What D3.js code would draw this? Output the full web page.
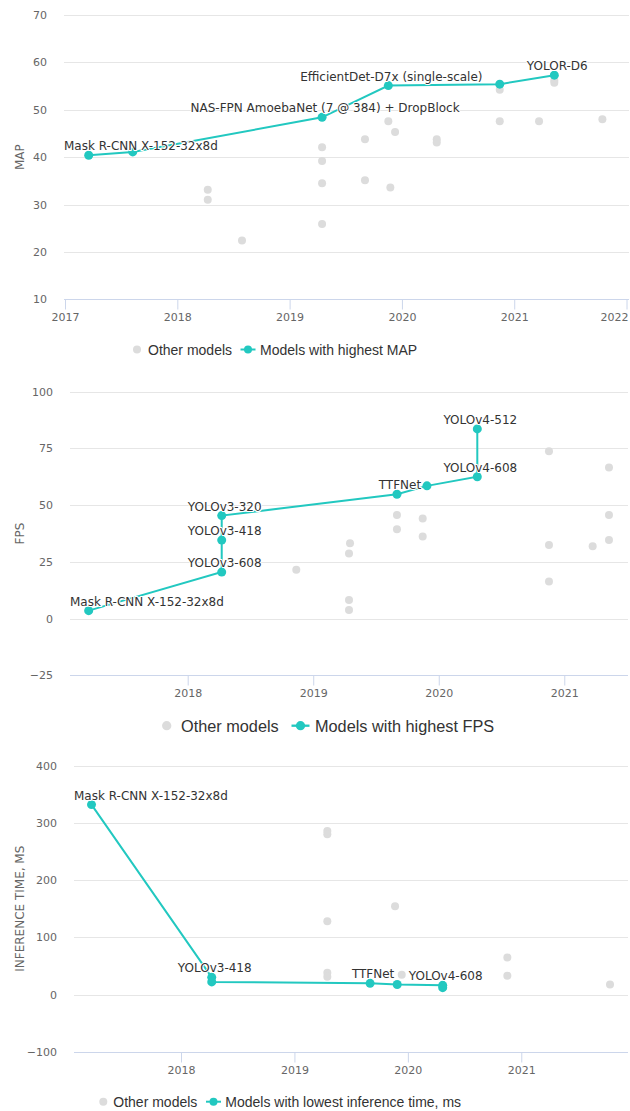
<!DOCTYPE html>
<html>
<head>
<meta charset="utf-8">
<script src="https://cdn.jsdelivr.net/npm/d3@7/dist/d3.min.js"></script>
<style>
  html, body { margin: 0; padding: 0; background: #fff; }
  svg { display: block; }
</style>
</head>
<body>
<svg id="chart" width="630" height="1111"></svg>
<script>
// ---------------- DATA ----------------
// Chart 1: MAP
const mapBestYears  = [2017.211, 2017.603, 2019.289, 2019.879, 2020.871, 2021.357];
const mapBestValues = [40.4, 41.1, 48.4, 55.1, 55.4, 57.3];
const mapBestLabels = ["Mask R-CNN X-152-32x8d", "", "NAS-FPN AmoebaNet (7 @ 384) + DropBlock",
                       "EfficientDet-D7x (single-scale)", "", "YOLOR-D6"];
const mapOtherYears  = [2018.271, 2018.271, 2018.576, 2019.289, 2019.289, 2019.289, 2019.289,
                        2019.879, 2019.939, 2019.671, 2019.671, 2019.897, 2020.31, 2020.31,
                        2020.871, 2020.871, 2021.221, 2021.357, 2021.357, 2021.785];
const mapOtherValues = [33.1, 31.0, 22.4, 42.1, 39.2, 34.5, 25.9,
                        47.6, 45.3, 43.8, 35.1, 33.6, 43.8, 43.1,
                        54.2, 47.6, 47.6, 56.2, 55.7, 48.0];
const mapXTicks = [2017, 2018, 2019, 2020, 2021, 2022];
const mapYTicks = [10, 20, 30, 40, 50, 60, 70];

// Chart 2: FPS
const fpsBestYears  = [2017.211, 2018.271, 2018.271, 2018.271, 2019.667, 2019.906, 2020.307, 2020.307];
const fpsBestValues = [3.5, 20.5, 34.6, 45.4, 54.8, 58.5, 62.5, 83.6];
const fpsBestLabels = ["Mask R-CNN X-152-32x8d", "YOLOv3-608", "YOLOv3-418", "YOLOv3-320",
                       "TTFNet", "", "YOLOv4-608", "YOLOv4-512"];
const fpsOtherYears  = [2018.865, 2019.293, 2019.285, 2019.285, 2019.285, 2019.667, 2019.667,
                        2019.872, 2019.872, 2020.878, 2020.878, 2020.878, 2021.226,
                        2021.356, 2021.356, 2021.356];
const fpsOtherValues = [21.5, 33.2, 28.7, 8.2, 3.8, 45.6, 39.4,
                        44.1, 36.2, 73.8, 32.4, 16.3, 31.9,
                        66.6, 45.6, 34.6];
const fpsXTicks = [2018, 2019, 2020, 2021];
const fpsYTicks = [-25, 0, 25, 50, 75, 100];

// Chart 3: Inference time, ms
const infBestYears  = [2017.211, 2018.271, 2018.271, 2019.667, 2019.906, 2020.307, 2020.307];
const infBestValues = [332, 30, 22, 19.5, 17.5, 16, 12];
const infBestLabels = ["Mask R-CNN X-152-32x8d", "YOLOv3-418", "", "TTFNet", "", "YOLOv4-608", ""];
const infOtherYears  = [2019.29, 2019.29, 2019.29, 2019.29, 2019.29, 2019.887, 2019.946,
                        2020.877, 2020.877, 2021.782];
const infOtherValues = [286, 280, 128, 38, 31, 154.5, 34.4, 64.7, 32.7, 17.5];
const infXTicks = [2018, 2019, 2020, 2021];
const infYTicks = [-100, 0, 100, 200, 300, 400];

// ---------------- STYLE ----------------
const CYAN = "#22c8c0";
const GREY = "#dcdcdc";
const FONT = "'DejaVu Sans', Verdana, sans-serif";
const LEGEND_FONT = "'Liberation Sans', Arial, sans-serif";
const PAGE_W = 630;

const svg = d3.select("#chart");

function drawChart(cfg) {
  const g = svg.append("g");
  const x = d3.scaleLinear().domain(cfg.xDomain).range([cfg.left, cfg.right]);
  const y = d3.scaleLinear().domain(cfg.yDomain).range([cfg.bottom, cfg.top]);

  // grid lines
  g.append("g").selectAll("line").data(cfg.yTicks).join("line")
    .attr("x1", cfg.left).attr("x2", cfg.right)
    .attr("y1", d => Math.round(y(d)) + 0.5).attr("y2", d => Math.round(y(d)) + 0.5)
    .attr("stroke", "#e6e6e6").attr("stroke-width", 1);

  // y axis labels
  const yAxis = d3.axisLeft(y).tickValues(cfg.yTicks).tickSize(0).tickPadding(0)
    .tickFormat(d3.format("d"));
  const ya = g.append("g").attr("transform", `translate(${cfg.left - 17},0)`).call(yAxis);
  ya.select(".domain").remove();
  ya.selectAll("text").attr("font-family", FONT).attr("font-size", 11).attr("fill", "#666");

  // x axis
  const xAxis = d3.axisBottom(x).tickValues(cfg.xTicks).tickSize(10).tickPadding(4)
    .tickFormat(d3.format("d"));
  const xa = g.append("g").attr("transform", `translate(0,${Math.round(cfg.bottom) + 0.5})`).call(xAxis);
  xa.select(".domain").attr("d", `M${cfg.left},0H${cfg.right}`).attr("stroke", "#ccd6eb");
  xa.selectAll(".tick line").attr("stroke", "#ccd6eb");
  xa.selectAll(".tick text").attr("font-family", FONT).attr("font-size", 11).attr("fill", "#666")
    .each(function(d) {
      // keep labels inside the page (like the reference's shifted last label)
      const w = this.getComputedTextLength();
      const cx = x(d);
      const maxRight = PAGE_W - 2;
      if (cx + w / 2 > maxRight) d3.select(this).attr("x", maxRight - w / 2 - cx);
    });

  // y axis title
  g.append("text")
    .attr("transform", `translate(23.5,${(cfg.top + cfg.bottom) / 2}) rotate(-90)`)
    .attr("text-anchor", "middle")
    .attr("font-family", FONT).attr("font-size", 12).attr("fill", "#666")
    .text(cfg.title);

  // other models
  const others = cfg.otherYears.map((yr, i) => ({ yr, v: cfg.otherValues[i] }));
  g.append("g").selectAll("circle").data(others).join("circle")
    .attr("cx", d => x(d.yr)).attr("cy", d => y(d.v)).attr("r", 4)
    .attr("fill", GREY);

  // best line
  const best = cfg.bestYears.map((yr, i) => ({ yr, v: cfg.bestValues[i], label: cfg.bestLabels[i] }));
  const line = d3.line().x(d => x(d.yr)).y(d => y(d.v));
  g.append("path").datum(best).attr("d", line)
    .attr("fill", "none").attr("stroke", CYAN).attr("stroke-width", 2);
  g.append("g").selectAll("circle").data(best).join("circle")
    .attr("cx", d => x(d.yr)).attr("cy", d => y(d.v)).attr("r", 4.5)
    .attr("fill", CYAN);

  // data labels
  const lab = g.append("g");
  best.filter(d => d.label).forEach(d => {
    const t = lab.append("text")
      .attr("x", x(d.yr) + 3).attr("y", y(d.v) - 5)
      .attr("text-anchor", "middle")
      .attr("font-family", FONT).attr("font-size", 12)
      .attr("fill", "#333")
      .attr("stroke", "#fff").attr("stroke-width", 2).attr("stroke-linejoin", "round")
      .attr("paint-order", "stroke")
      .text(d.label);
    const w = t.node().getComputedTextLength();
    let cx = x(d.yr) + 3;
    if (cx - w / 2 < cfg.left) cx = cfg.left + w / 2;
    if (cx + w / 2 > cfg.right) cx = cfg.right - w / 2;
    t.attr("x", cx);
  });

  // legend
  const L = cfg.legend;
  const lg = g.append("g");
  lg.append("circle").attr("cx", L.circleX).attr("cy", L.y).attr("r", 4 * L.scale).attr("fill", GREY);
  lg.append("text").attr("x", L.text1X).attr("y", L.y + 5 * L.scale)
    .attr("font-family", LEGEND_FONT).attr("font-size", L.fontSize).attr("fill", "#333")
    .text("Other models");
  lg.append("line").attr("x1", L.lineX1).attr("x2", L.lineX2).attr("y1", L.y).attr("y2", L.y)
    .attr("stroke", CYAN).attr("stroke-width", 2 * L.scale);
  lg.append("circle").attr("cx", (L.lineX1 + L.lineX2) / 2).attr("cy", L.y).attr("r", 4 * L.scale).attr("fill", CYAN);
  lg.append("text").attr("x", L.text2X).attr("y", L.y + 5 * L.scale)
    .attr("font-family", LEGEND_FONT).attr("font-size", L.fontSize).attr("fill", "#333")
    .text(cfg.legendText);
}

drawChart({
  left: 64, right: 629, top: 15, bottom: 299.3,
  xDomain: [2016.991, 2022.022], yDomain: [10, 70],
  xTicks: mapXTicks, yTicks: mapYTicks, title: "MAP",
  bestYears: mapBestYears, bestValues: mapBestValues, bestLabels: mapBestLabels,
  otherYears: mapOtherYears, otherValues: mapOtherValues,
  legendText: "Models with highest MAP",
  legend: { y: 349.5, circleX: 137, text1X: 148, lineX1: 240.5, lineX2: 255.5, text2X: 260, fontSize: 14, scale: 1 }
});

drawChart({
  left: 70, right: 628, top: 391.7, bottom: 675.3,
  xDomain: [2017.0624, 2021.5075], yDomain: [-25, 100],
  xTicks: fpsXTicks, yTicks: fpsYTicks, title: "FPS",
  bestYears: fpsBestYears, bestValues: fpsBestValues, bestLabels: fpsBestLabels,
  otherYears: fpsOtherYears, otherValues: fpsOtherValues,
  legendText: "Models with highest FPS",
  legend: { y: 725.7, circleX: 166.7, text1X: 181, lineX1: 291.5, lineX2: 309.5, text2X: 315, fontSize: 16.3, scale: 1.16 }
});

drawChart({
  left: 74, right: 628, top: 765.7, bottom: 1051.7,
  xDomain: [2017.0567, 2021.9407], yDomain: [-100, 400],
  xTicks: infXTicks, yTicks: infYTicks, title: "INFERENCE TIME, MS",
  bestYears: infBestYears, bestValues: infBestValues, bestLabels: infBestLabels,
  otherYears: infOtherYears, otherValues: infOtherValues,
  legendText: "Models with lowest inference time, ms",
  legend: { y: 1101.7, circleX: 103.3, text1X: 113.3, lineX1: 206, lineX2: 221, text2X: 225.3, fontSize: 14, scale: 1 }
});
</script>
</body>
</html>
